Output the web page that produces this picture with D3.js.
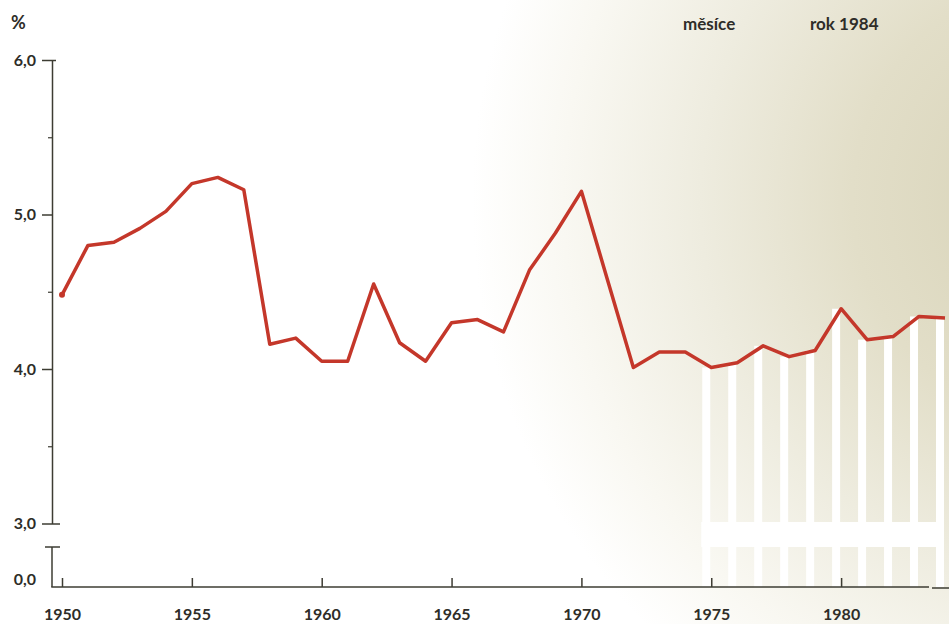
<!DOCTYPE html>
<html>
<head>
<meta charset="utf-8">
<script src="https://cdn.jsdelivr.net/npm/d3@7"></script>
<style>
    body { margin: 0; background: #fff; }
    svg { display: block; }
    text { font-family: Lato, "Open Sans", sans-serif; fill: #2e2d28; }
</style>
</head>
<body>
<div id="chart"></div>
<script>
const WIDTH = 949
const HEIGHT = 624
const LINE_COLOR = "#c4372a"
const AXIS_COLOR = "#3d3c33"
const LABEL_SIZE = 16

// data
const years = d3.range(1950, 1985)
const values = [
    4.48, 4.80, 4.82, 4.91, 5.02, 5.20, 5.24, 5.16, 4.16, 4.20,
    4.05, 4.05, 4.55, 4.17, 4.05, 4.30, 4.32, 4.24, 4.64, 4.88,
    5.15, 4.58, 4.01, 4.11, 4.11, 4.01, 4.04, 4.15, 4.08, 4.12,
    4.39, 4.19, 4.21, 4.34, 4.33
]
const xTicks = [1950, 1955, 1960, 1965, 1970, 1975, 1980]
const yTicks = [3, 4, 5, 6]
const yMinorTicks = [3.5, 4.5, 5.5]
const barYears = d3.range(1975, 1985)
const topLabels = ["měsíce", "rok 1984"]

const data = years.map((y, i) => ({ year: y, value: values[i] }))

const x = d3.scaleLinear().domain([1950, 1984]).range([62, 945])
const y = d3.scaleLinear().domain([3, 6]).range([523.5, 60])
const AXIS_X = 52
const BASE_Y = 587
const BREAK_Y = 547
const fmt = v => d3.format(".1f")(v).replace(".", ",")

const svg = d3.select("#chart")
    .append("svg")
    .attr("width", WIDTH)
    .attr("height", HEIGHT)

// paper tint
const grad = svg.append("defs")
    .append("radialGradient")
    .attr("id", "paper")
    .attr("gradientUnits", "userSpaceOnUse")
    .attr("cx", 1080).attr("cy", 200).attr("r", 760)
grad.selectAll("stop")
    .data([[0, "#d6d1b5"], [0.3, "#e2dec8"], [0.5, "#eeecdf"], [0.68, "#f9f8f2"], [0.8, "#ffffff"]])
    .enter().append("stop")
    .attr("offset", d => d[0])
    .attr("stop-color", d => d[1])

svg.append("rect")
    .attr("width", WIDTH).attr("height", HEIGHT)
    .attr("fill", "url(#paper)")

// pale bars beneath the line on the right
svg.selectAll(".pale")
    .data(data.filter(d => barYears.includes(d.year)))
    .enter().append("rect")
    .attr("class", "pale")
    .attr("x", d => x(d.year) - 9)
    .attr("y", d => y(d.value))
    .attr("width", 8)
    .attr("height", d => BASE_Y - y(d.value))
    .attr("fill", "#fff")

svg.append("rect")
    .attr("x", x(1975) - 10).attr("y", 522)
    .attr("width", x(1984) - x(1975) + 2).attr("height", 25)
    .attr("fill", "#fff")

// y axis, upper part
const yAxis = svg.append("g")
    .attr("transform", `translate(${AXIS_X},0)`)
    .call(d3.axisLeft(y).tickValues(yTicks).tickSize(10).tickFormat(fmt).tickSizeOuter(0))
yAxis.select(".domain").attr("stroke", AXIS_COLOR).attr("stroke-width", 1.5)
yAxis.selectAll(".tick line").attr("stroke", AXIS_COLOR).attr("stroke-width", 1.5)
yAxis.selectAll(".tick text")
    .attr("x", -16)
    .attr("font-size", LABEL_SIZE)
    .attr("font-weight", "bold")
    .style("font-family", "Lato, sans-serif")
    .attr("fill", "#2e2d28")
// caps at 6,0 and 3,0 cross the axis
yAxis.selectAll(".tick").filter(d => d == 6 || d == 3)
    .append("line")
    .attr("x1", 0).attr("x2", d => d == 6 ? 4 : 8)
    .attr("stroke", AXIS_COLOR).attr("stroke-width", 1.5)

const yMinor = svg.append("g")
    .attr("transform", `translate(${AXIS_X},0)`)
    .call(d3.axisLeft(y).tickValues(yMinorTicks).tickSize(4).tickFormat(""))
yMinor.select(".domain").remove()
yMinor.selectAll(".tick line").attr("stroke", AXIS_COLOR).attr("stroke-width", 1.2)

// y axis, lower part after break
svg.append("line")
    .attr("x1", AXIS_X - 7).attr("x2", AXIS_X + 8)
    .attr("y1", BREAK_Y).attr("y2", BREAK_Y)
    .attr("stroke", AXIS_COLOR).attr("stroke-width", 1.5)
svg.append("line")
    .attr("x1", AXIS_X).attr("x2", AXIS_X)
    .attr("y1", BREAK_Y).attr("y2", BASE_Y)
    .attr("stroke", AXIS_COLOR).attr("stroke-width", 1.5)
svg.append("text")
    .attr("x", AXIS_X - 16).attr("y", BASE_Y - 7)
    .attr("dy", "0.32em")
    .attr("text-anchor", "end")
    .attr("font-size", LABEL_SIZE)
    .attr("font-weight", "bold")
    .text(fmt(0))

// x axis
const xAxis = svg.append("g")
    .attr("transform", `translate(0,${BASE_Y})`)
    .call(d3.axisTop(x).tickValues(xTicks).tickSize(9).tickFormat(d3.format("d")).tickSizeOuter(0))
xAxis.select(".domain").remove()
xAxis.selectAll(".tick line").attr("stroke", AXIS_COLOR).attr("stroke-width", 1.5)
xAxis.selectAll(".tick text")
    .attr("y", 28)
    .attr("dy", "0.32em")
    .attr("font-size", LABEL_SIZE)
    .attr("font-weight", "bold")
    .style("font-family", "Lato, sans-serif")
    .attr("fill", "#2e2d28")

svg.append("line")
    .attr("x1", AXIS_X - 0.75).attr("x2", 929)
    .attr("y1", BASE_Y).attr("y2", BASE_Y)
    .attr("stroke", AXIS_COLOR).attr("stroke-width", 1.5)
svg.append("line")
    .attr("x1", 932).attr("x2", WIDTH)
    .attr("y1", BASE_Y + 1).attr("y2", BASE_Y + 1)
    .attr("stroke", AXIS_COLOR).attr("stroke-width", 1.5)

// the line
svg.append("path")
    .datum(data)
    .attr("fill", "none")
    .attr("stroke", LINE_COLOR)
    .attr("stroke-width", 3.5)
    .attr("stroke-linejoin", "round")
    .attr("d", d3.line().x(d => x(d.year)).y(d => y(d.value)))

svg.append("circle")
    .attr("cx", x(1950)).attr("cy", y(values[0]))
    .attr("r", 3)
    .attr("fill", LINE_COLOR)

// labels
svg.append("text")
    .attr("x", 11).attr("y", 29)
    .attr("font-size", 18)
    .attr("font-weight", "bold")
    .text("%")

svg.selectAll(".top")
    .data(topLabels)
    .enter().append("text")
    .attr("class", "top")
    .attr("x", (d, i) => i == 0 ? 683 : 810)
    .attr("y", 30)
    .attr("font-size", 17)
    .attr("font-weight", "bold")
    .text(d => d)
</script>
</body>
</html>
